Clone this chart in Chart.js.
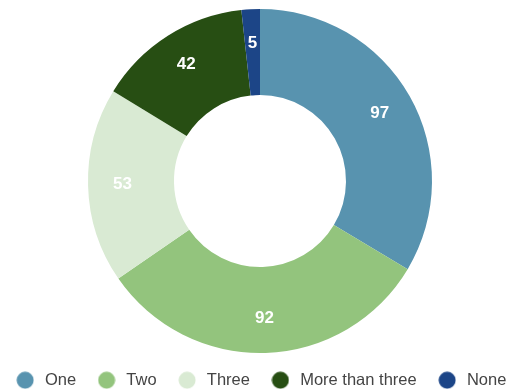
<!DOCTYPE html>
<html>
<head>
<meta charset="utf-8">
<script src="https://cdn.jsdelivr.net/npm/chart.js@4.4.0/dist/chart.umd.min.js"></script>
<style>
  html, body { margin: 0; padding: 0; background: #fff; overflow: hidden; }
  body { width: 507px; height: 392px; position: relative; }
  /* canvas um pouco mais largo que a janela para a legenda caber numa linha */
  #wrap { position: absolute; left: -11px; top: 0; width: 542px; height: 392px; }
</style>
</head>
<body>
<div id="wrap"><canvas id="grafico"></canvas></div>
<script>
const categorias = ['One', 'Two', 'Three', 'More than three', 'None'];
const valores = [97, 92, 53, 42, 5];
const cores = ['#5893af', '#93c47d', '#d9ead3', '#274e13', '#1c4587'];

// bolinha da legenda desenhada num canvas pequeno
function bolinha(cor) {
  const c = document.createElement('canvas');
  c.width = 18;
  c.height = 18;
  const g = c.getContext('2d');
  g.fillStyle = cor;
  g.beginPath();
  g.arc(9, 9, 8.5, 0, Math.PI * 2);
  g.fill();
  return c;
}

// escreve o valor de cada fatia dentro do anel
const rotulosFatias = {
  id: 'rotulosFatias',
  afterDatasetsDraw(chart) {
    const ctx = chart.ctx;
    const meta = chart.getDatasetMeta(0);
    ctx.save();
    ctx.font = 'bold 17px "Liberation Sans", Arial, sans-serif';
    ctx.fillStyle = '#ffffff';
    ctx.textAlign = 'center';
    ctx.textBaseline = 'middle';
    meta.data.forEach((arco, i) => {
      const p = arco.getProps(['x', 'y', 'startAngle', 'endAngle', 'innerRadius', 'outerRadius']);
      const meio = (p.startAngle + p.endAngle) / 2;
      const r = p.innerRadius + 0.6 * (p.outerRadius - p.innerRadius);
      ctx.fillText(String(valores[i]), p.x + Math.cos(meio) * r, p.y + Math.sin(meio) * r);
    });
    ctx.restore();
  }
};

const gerarLegenda = Chart.overrides.doughnut.plugins.legend.labels.generateLabels;

const contexto = document.getElementById('grafico').getContext('2d');
new Chart(contexto, {
  type: 'doughnut',
  data: {
    labels: categorias,
    datasets: [{
      data: valores,
      backgroundColor: cores,
      borderWidth: 0
    }]
  },
  options: {
    responsive: true,
    maintainAspectRatio: false,
    animation: false,
    cutout: '50%',
    layout: { padding: { top: 9, bottom: -6.5, left: 0, right: 0 } },
    plugins: {
      tooltip: { enabled: false },
      legend: {
        position: 'bottom',
        labels: {
          usePointStyle: true,
          pointStyleWidth: 23,
          padding: 19,
          color: '#444444',
          font: { family: '"Liberation Sans", Arial, sans-serif', size: 16.5 },
          generateLabels(chart) {
            return gerarLegenda(chart).map(item => {
              item.pointStyle = bolinha(item.fillStyle);
              return item;
            });
          }
        }
      }
    }
  },
  plugins: [rotulosFatias]
});
</script>
</body>
</html>
